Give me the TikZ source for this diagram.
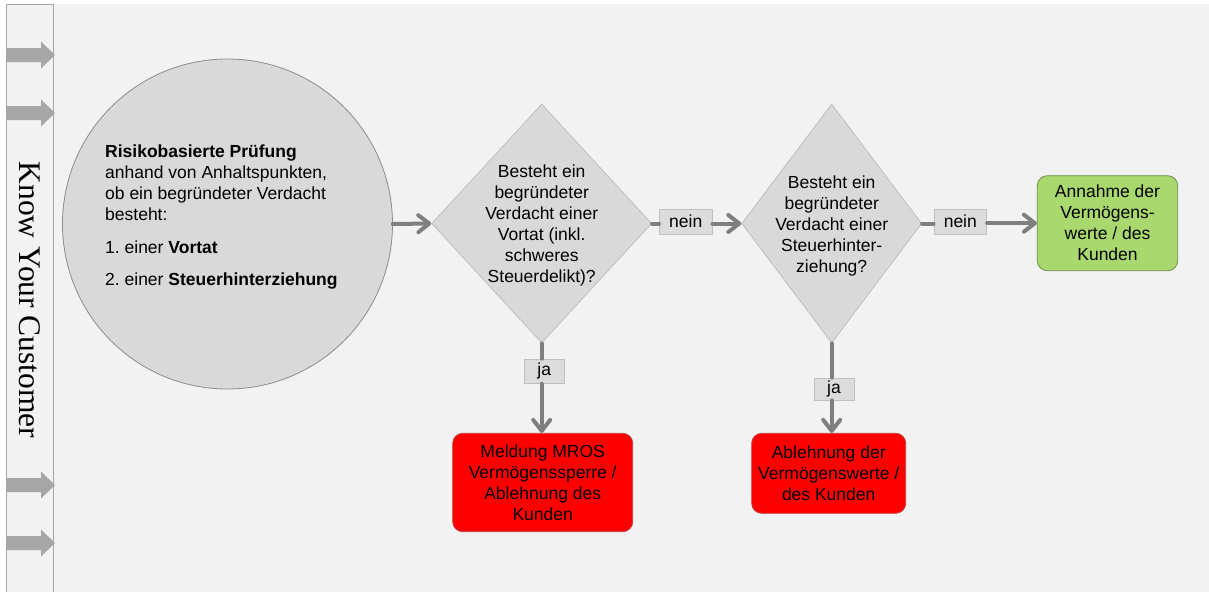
\documentclass[tikz,border=0pt]{standalone}
\usepackage{fontspec}
\setmainfont{Liberation Sans}
\newfontfamily\kycserif{Liberation Serif}
\usetikzlibrary{shapes.geometric,arrows.meta}
\frenchspacing
\definecolor{bgc}{HTML}{F2F2F2}
\definecolor{stripc}{HTML}{A6A6A6}
\definecolor{blockc}{HTML}{A6A6A6}
\definecolor{shapefill}{HTML}{D9D9D9}
\definecolor{circborder}{HTML}{8C8C8C}
\definecolor{diaborder}{HTML}{BFBFBF}
\definecolor{lblfill}{HTML}{DCDCDC}
\definecolor{lblborder}{HTML}{C0C0C0}
\definecolor{connc}{HTML}{7F7F7F}
\definecolor{greenc}{HTML}{A8D86E}
\definecolor{greenborder}{HTML}{6E8C4E}
\definecolor{redc}{HTML}{FF0000}
\definecolor{redborder}{HTML}{C04040}
\begin{document}
\begin{tikzpicture}[x=1pt,y=-1pt,
  txt/.style={font=\fontsize{17.5pt}{21pt}\selectfont\frenchspacing, text=black, inner sep=0pt},
  dia/.style={diamond, draw=diaborder, fill=shapefill, line width=0.8pt, inner sep=0pt},
  lbl/.style={txt, rectangle, draw=lblborder, fill=lblfill, line width=0.8pt},
  conn/.style={draw=connc, line width=4pt, line cap=round},
  arr/.style={conn, -{Straight Barb[length=11pt,width=17pt,round]}},
  endbox/.style={txt, rectangle, rounded corners=10pt, align=center, line width=0.8pt}]
\useasboundingbox (0,0) rectangle (1209,592);
\fill[white] (0,0) rectangle (1209,592);
\fill[bgc] (6,4) rectangle (1209,592);
% left strip
\draw[stripc, line width=1pt] (6,592) -- (6,4) -- (53,4) -- (53,592);
\foreach \c in {55,113,485,543}{
  \fill[blockc] (6,\c-7) -- (41,\c-7) -- (41,\c-13.5) -- (55,\c) -- (41,\c+13.5) -- (41,\c+7) -- (6,\c+7) -- cycle;
}
\node[rotate=-90, inner sep=0pt, font=\kycserif\fontsize{31.5pt}{36pt}\selectfont] (kyc) at (30,300) {Know Your Customer};
% circle
\node[circle, draw=circborder, fill=shapefill, line width=0.8pt, minimum size=330pt, inner sep=0pt] (circ) at (227.5,224) {};
\node[txt, align=left, anchor=west] (ctext) at (105,217) {\textbf{Risikobasierte Prüfung}\\ anhand von Anhaltspunkten,\\ ob ein begründeter Verdacht\\ besteht:\\[11.5pt] 1. einer \textbf{Vortat}\\[11pt] 2. einer \textbf{Steuerhinterziehung}};
% diamonds
\node[dia, minimum width=220pt, minimum height=239pt] (d1) at (541.7,223.5) {};
\node[txt, align=center] (d1t) at (541.7,225.5) {Besteht ein\\ begründeter\\ Verdacht einer\\ Vortat (inkl.\\ schweres\\ Steuerdelikt)?};
\node[dia, minimum width=180pt, minimum height=239pt] (d2) at (831.7,223.5) {};
\node[txt, align=center] (d2t) at (831.7,225.5) {Besteht ein\\ begründeter\\ Verdacht einer\\ Steuerhinter-\\ ziehung?};
% labels
\node[lbl, minimum width=52.7pt, minimum height=25.3pt] (n1) at (685.7,221.7) {nein};
\node[lbl, minimum width=52.7pt, minimum height=25.3pt] (n2) at (960.3,221.7) {nein};
\node[lbl, minimum width=40pt, minimum height=24.3pt] (j1) at (544.3,371.2) {ja};
\node[lbl, minimum width=40pt, minimum height=22pt] (j2) at (834,389) {ja};
% end boxes
\node[endbox, draw=greenborder, fill=greenc, minimum width=140.4pt, minimum height=95pt] (acc) at (1107.5,223.2) {Annahme der\\ Vermögens-\\ werte / des\\ Kunden};
\node[endbox, draw=redborder, fill=redc, minimum width=180pt, minimum height=98.4pt] (r1) at (542.7,482.5) {Meldung MROS\\ Vermögenssperre /\\ Ablehnung des\\ Kunden};
\node[endbox, draw=redborder, fill=redc, minimum width=154pt, minimum height=80pt] (r2) at (828.7,473.3) {Ablehnung der\\ Vermögenswerte /\\ des Kunden};
% connectors
\draw[arr] (circ.east) -- (d1.west);
\draw[conn] (d1.east) -- (d1.east -| n1.west);
\draw[arr] (d2.west -| n1.east) -- (d2.west);
\draw[conn] (d2.east) -- (d2.east -| n2.west);
\draw[arr] (acc.west -| n2.east) -- (acc.west);
\draw[conn] (d1.south) -- (d1.south |- j1.north);
\draw[arr] (d1.south |- j1.south) -- (r1.north -| d1.south);
\draw[conn] (d2.south) -- (d2.south |- j2.north);
\draw[arr] (d2.south |- j2.south) -- (r2.north -| d2.south);
\end{tikzpicture}
\end{document}
